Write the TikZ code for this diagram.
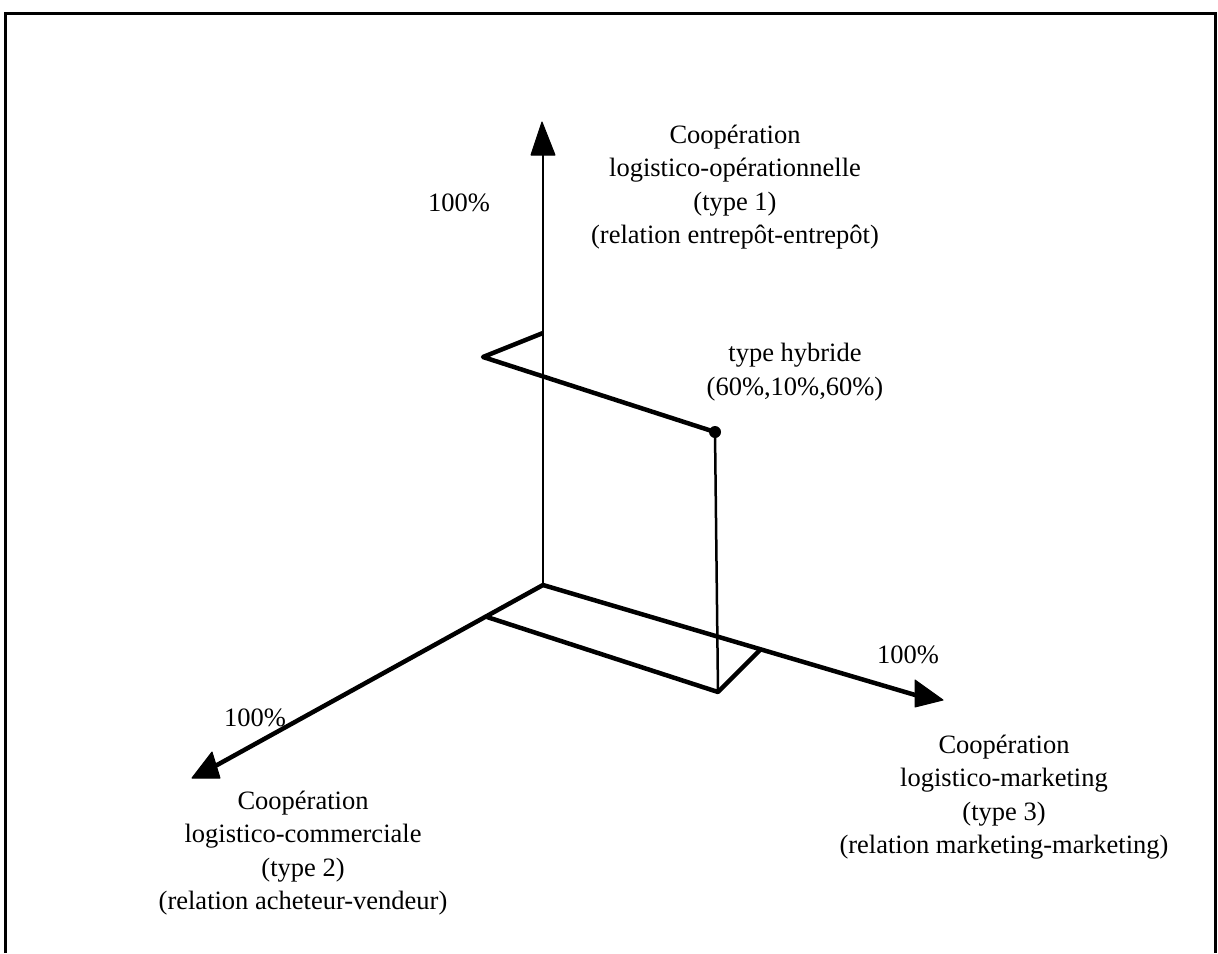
\documentclass[tikz,border=0pt]{standalone}
\usepackage{fontspec}
\setmainfont{Liberation Serif}
\begin{document}
\begin{tikzpicture}[x=1pt,y=-1pt,
  thinline/.style={line width=2.5pt},
  thickline/.style={line width=4.5pt, line join=round},
  head/.style={fill=black, draw=black, line width=1pt, line join=round},
  lbl/.style={font=\fontsize{26.5}{33.5}\selectfont, align=center, inner sep=0pt}]
\useasboundingbox (0,0) rectangle (1218,953);
% open frame
\draw[line width=3pt] (5,953) -- (5,13) -- (1215,13) -- (1215,953);

% axes
\coordinate (O) at (543,585);
\coordinate (ytop) at (543,150);
\coordinate (zend) at (208,770);
\coordinate (xend) at (922,697);
\draw[thinline] (O) -- (ytop);
\draw[thickline] (O) -- (zend);
\draw[thickline] (O) -- (xend);

% arrowheads
\coordinate (ya) at (542,122); \coordinate (yb) at (531,155); \coordinate (yc) at (555,155);
\filldraw[head] (ya) -- (yb) -- (yc) -- cycle;
\coordinate (za) at (192,778); \coordinate (zb) at (220,778); \coordinate (zc) at (212,752);
\filldraw[head] (za) -- (zb) -- (zc) -- cycle;
\coordinate (xa) at (915,680); \coordinate (xb) at (943,700); \coordinate (xc) at (915,707);
\filldraw[head] (xa) -- (xb) -- (xc) -- cycle;

% hybrid point and its projections
\coordinate (ymark) at (543,333);
\coordinate (yzcorner) at (483,357);
\coordinate (P) at (715,432);
\coordinate (foot) at (718,692);
\coordinate (zmark) at (487,617);
\coordinate (xmark) at (760,650);
\draw[thickline] (ymark) -- (yzcorner) -- (P);
\draw[thinline] (P) -- (foot);
\draw[thickline] (zmark) -- (foot) -- (xmark);
\fill (P) circle (6);

% labels
\node[lbl] (t1) at (735,187) {Coopération\\logistico-opérationnelle\\(type 1)\\(relation entrepôt-entrepôt)};
\node[lbl] (py) at (459,203) {100\%};
\node[lbl] (hyb) at (795,372) {type hybride\\(60\%,10\%,60\%)};
\node[lbl] (px) at (908,655) {100\%};
\node[lbl] (pz) at (255,718) {100\%};
\node[lbl] (t2) at (303,853) {Coopération\\logistico-commerciale\\(type 2)\\(relation acheteur-vendeur)};
\node[lbl] (t3) at (1004,797) {Coopération\\logistico-marketing\\(type 3)\\(relation marketing-marketing)};
\end{tikzpicture}
\end{document}
